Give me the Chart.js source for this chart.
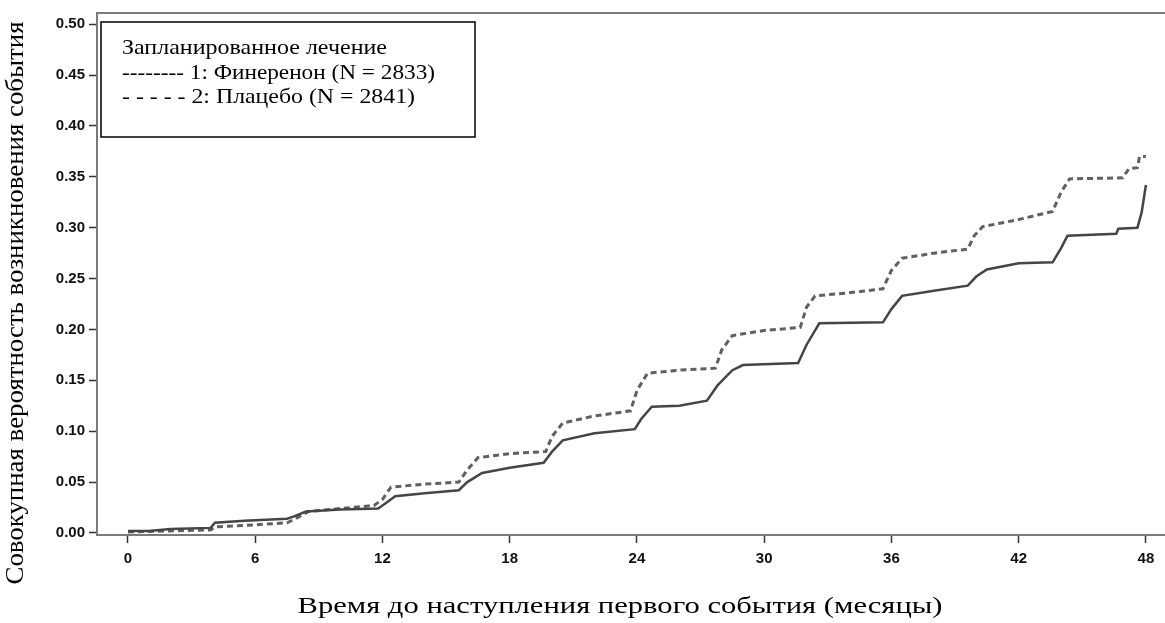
<!DOCTYPE html>
<html>
<head>
<meta charset="utf-8">
<script src="https://cdn.jsdelivr.net/npm/chart.js@4"></script>
<style>
  body { margin: 0; background: #fff; }
  #wrap { width: 1165px; height: 623px; position: relative; }
</style>
</head>
<body>
<div id="wrap"><canvas id="km-chart"></canvas></div>
<script>
// months / cumulative incidence
const finMonths = [0, 1.0, 2.0, 3.9, 4.1, 5.5, 7.5, 7.8, 8.4, 10, 11.8, 12.2, 12.6, 14, 15.6, 16.0, 16.7, 18, 19.6, 20.0, 20.5, 22, 23.9, 24.2, 24.7, 26, 27.3, 27.8, 28.5, 29.0, 31.6, 32.0, 32.6, 35.6, 36.0, 36.5, 38, 39.6, 40.0, 40.5, 42, 43.6, 44.0, 44.3, 46.6, 46.7, 47.6, 47.8, 48.0];
const finValues = [0.002, 0.002, 0.004, 0.005, 0.010, 0.012, 0.014, 0.016, 0.021, 0.023, 0.024, 0.030, 0.036, 0.039, 0.042, 0.050, 0.059, 0.064, 0.069, 0.080, 0.091, 0.098, 0.102, 0.112, 0.124, 0.125, 0.130, 0.145, 0.160, 0.165, 0.167, 0.185, 0.206, 0.207, 0.220, 0.233, 0.238, 0.243, 0.252, 0.259, 0.265, 0.266, 0.280, 0.292, 0.294, 0.299, 0.300, 0.315, 0.342];

const plaMonths = [0, 2, 3.9, 4.1, 6, 7.5, 7.9, 8.5, 10, 11.6, 12.0, 12.4, 14, 15.6, 16.0, 16.5, 18, 19.7, 20.0, 20.5, 22, 23.7, 24.0, 24.5, 26, 27.7, 28.0, 28.5, 30, 31.7, 32.0, 32.4, 34, 35.6, 36.0, 36.5, 38, 39.6, 39.9, 40.3, 42, 43.6, 44.0, 44.4, 46.9, 47.2, 47.6, 47.7, 48.0];
const plaValues = [0.001, 0.002, 0.003, 0.006, 0.008, 0.010, 0.014, 0.021, 0.024, 0.027, 0.033, 0.045, 0.048, 0.050, 0.062, 0.074, 0.078, 0.080, 0.095, 0.108, 0.115, 0.120, 0.140, 0.157, 0.160, 0.162, 0.180, 0.194, 0.199, 0.202, 0.222, 0.233, 0.236, 0.240, 0.258, 0.270, 0.275, 0.279, 0.292, 0.301, 0.308, 0.316, 0.335, 0.348, 0.349, 0.358, 0.359, 0.370, 0.370];

const xTicks = [0, 6, 12, 18, 24, 30, 36, 42, 48];
const yTicks = [0, 0.05, 0.10, 0.15, 0.20, 0.25, 0.30, 0.35, 0.40, 0.45, 0.50];

const legendTitle = 'Запланированное лечение';
const legendLines = ['-------- 1: Финеренон (N = 2833)', '- - - - - 2: Плацебо (N = 2841)'];
const xTitle = 'Время до наступления первого события (месяцы)';
const yTitle = 'Совокупная вероятность возникновения события';

const toPoints = (xs, ys) => xs.map((m, i) => ({ x: m, y: ys[i] }));

const axisGray = '#7a7a7a';
const serif = '"Liberation Serif", "Times New Roman", serif';

// the source picture is a little stretched sideways, so text is squeezed/stretched to width
function fitText(ctx, text, x, y, width, align) {
  const w = ctx.measureText(text).width;
  const sx = width / w;
  ctx.save();
  ctx.translate(x, y);
  ctx.scale(sx, 1);
  ctx.textAlign = align;
  ctx.fillText(text, 0, 0);
  ctx.restore();
}

// titles, legend box and top frame line
const decorations = {
  id: 'decorations',
  afterDraw(chart) {
    const ctx = chart.ctx;
    const area = chart.chartArea;
    ctx.save();

    ctx.strokeStyle = axisGray;
    ctx.lineWidth = 2;
    ctx.beginPath();
    ctx.moveTo(area.left, area.top);
    ctx.lineTo(area.right, area.top);
    ctx.stroke();

    ctx.fillStyle = '#000';
    ctx.textBaseline = 'middle';
    ctx.font = '24px ' + serif;
    fitText(ctx, xTitle, 620, 607, 645, 'center');

    ctx.save();
    ctx.translate(16, 303);
    ctx.rotate(-Math.PI / 2);
    ctx.font = '25px ' + serif;
    fitText(ctx, yTitle, 0, 0, 563, 'center');
    ctx.restore();

    // legend box
    ctx.fillStyle = '#fff';
    ctx.fillRect(101, 22, 374, 115);
    ctx.strokeStyle = '#000';
    ctx.lineWidth = 1.5;
    ctx.strokeRect(101, 22, 374, 115);

    ctx.fillStyle = '#000';
    ctx.font = '22px ' + serif;
    fitText(ctx, legendTitle, 122, 48, 265, 'left');
    fitText(ctx, legendLines[0], 122, 73, 313, 'left');
    fitText(ctx, legendLines[1], 122, 97, 293, 'left');

    ctx.restore();
  }
};

const tickFont = { family: '"Liberation Sans", Arial, sans-serif', size: 15, weight: 'bold' };

new Chart(document.getElementById('km-chart'), {
  type: 'line',
  data: {
    datasets: [
      {
        label: 'Финеренон',
        data: toPoints(finMonths, finValues),
        borderColor: '#454545',
        borderWidth: 2.5,
        pointRadius: 0,
        tension: 0,
        fill: false
      },
      {
        label: 'Плацебо',
        data: toPoints(plaMonths, plaValues),
        borderColor: '#606060',
        borderWidth: 3,
        borderDash: [6, 4],
        pointRadius: 0,
        tension: 0,
        fill: false
      }
    ]
  },
  options: {
    responsive: true,
    maintainAspectRatio: false,
    animation: false,
    layout: { padding: { top: 11, right: 0, left: 0, bottom: 0 } },
    plugins: {
      legend: { display: false },
      tooltip: { enabled: false }
    },
    scales: {
      x: {
        type: 'linear',
        min: -1.46,
        max: 48.9,
        afterBuildTicks: s => { s.ticks = xTicks.map(v => ({ value: v })); },
        afterFit: s => { s.height = 88; },
        border: { color: axisGray, width: 2 },
        grid: { drawOnChartArea: false, tickLength: 8, tickColor: '#333', tickWidth: 1.5 },
        ticks: { color: '#111', padding: 7, maxRotation: 0, font: tickFont }
      },
      y: {
        min: -0.002,
        max: 0.511,
        afterBuildTicks: s => { s.ticks = yTicks.map(v => ({ value: v })); },
        afterFit: s => { s.width = 97; },
        border: { color: axisGray, width: 2 },
        grid: { drawOnChartArea: false, tickLength: 8, tickColor: '#333', tickWidth: 1.5 },
        ticks: { color: '#111', padding: 4, callback: v => v.toFixed(2), font: tickFont }
      }
    }
  },
  plugins: [decorations]
});
</script>
</body>
</html>
